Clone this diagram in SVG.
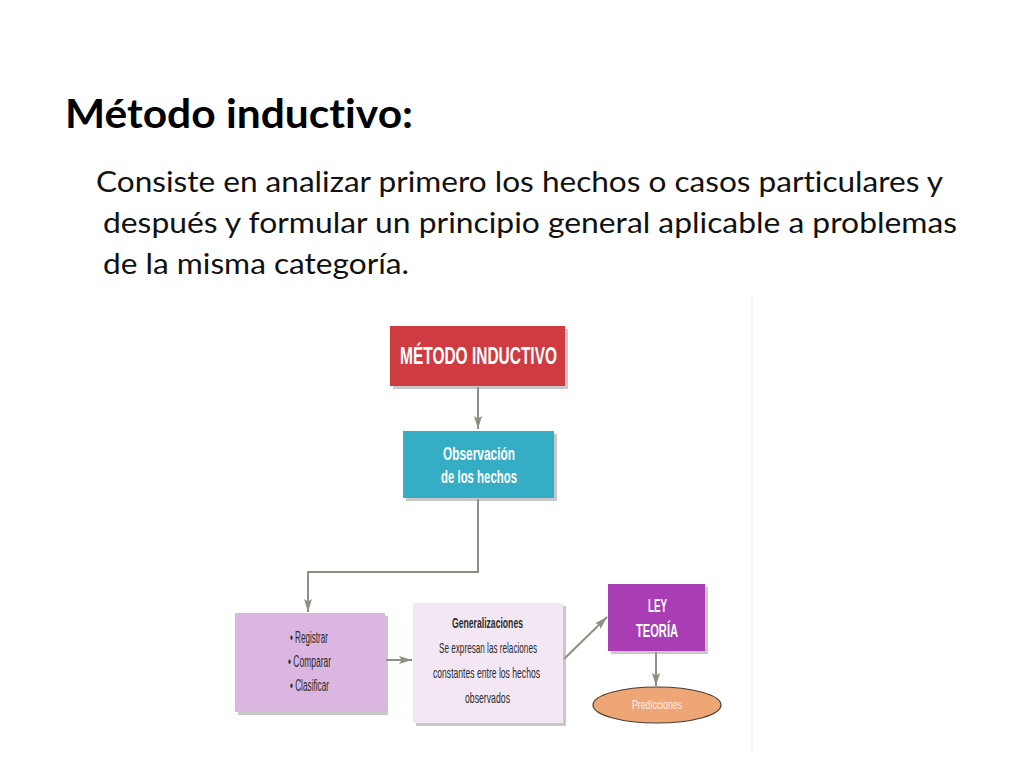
<svg xmlns="http://www.w3.org/2000/svg" width="1024" height="768" viewBox="0 0 1024 768">
<defs>
<style>
text{font-variant-ligatures:none;font-feature-settings:"liga" 0,"clig" 0}
.title{font-family:Lato,"Liberation Sans",sans-serif;font-weight:bold;font-size:40px;fill:#000}
.body{font-family:Lato,"Liberation Sans",sans-serif;font-size:28px;fill:#111}
.bx{font-family:"Liberation Sans",Arial,sans-serif;font-weight:bold;fill:#fff}
.dk{font-family:"Liberation Sans",Arial,sans-serif;fill:#2b2b2b}
.conn{fill:none;stroke:#8c9082;stroke-width:2}
.shadow{fill:#9a9a9a;opacity:0.55}
</style>
<marker id="ah" viewBox="0 0 10 10" refX="10" refY="5" markerWidth="13" markerHeight="8" markerUnits="userSpaceOnUse" orient="auto" preserveAspectRatio="none">
<path d="M0,0 L10,5 L0,10 L2,5 z" fill="#8c9082"/>
</marker>
</defs>
<rect width="1024" height="768" fill="#fff"/>
<line x1="752" y1="295" x2="752" y2="752" stroke="#f4f4f4" stroke-width="2"/>

<text class="title" x="65" y="128" textLength="348" lengthAdjust="spacingAndGlyphs">Método inductivo:</text>
<text class="body" x="96" y="192" textLength="847" lengthAdjust="spacingAndGlyphs">Consiste en analizar primero los hechos o casos particulares y</text>
<text class="body" x="103" y="233" textLength="854" lengthAdjust="spacingAndGlyphs">después y formular un principio general aplicable a problemas</text>
<text class="body" x="103" y="274" textLength="306" lengthAdjust="spacingAndGlyphs">de la misma categoría.</text>

<g id="connectors">
<line class="conn" x1="478" y1="387" x2="478" y2="429" marker-end="url(#ah)"/>
<polyline class="conn" points="478,499 478,572 308,572 308,612" marker-end="url(#ah)"/>
<line class="conn" x1="386" y1="660" x2="412" y2="660" marker-end="url(#ah)"/>
<line class="conn" x1="564" y1="659" x2="607" y2="617" marker-end="url(#ah)"/>
<line class="conn" x1="656" y1="652" x2="656" y2="686" marker-end="url(#ah)"/>
</g>

<g id="metodo">
<rect class="shadow" x="393" y="329" width="175" height="60"/>
<rect x="390" y="326" width="175" height="60" fill="#cf3b41"/>
<text class="bx" x="400" y="364" font-size="24" textLength="157" lengthAdjust="spacingAndGlyphs">MÉTODO INDUCTIVO</text>
</g>

<g id="observacion">
<rect class="shadow" x="406" y="434" width="151" height="67"/>
<rect x="403" y="431" width="151" height="67" fill="#35adc5"/>
<text class="bx" x="443" y="460" font-size="18" textLength="72" lengthAdjust="spacingAndGlyphs">Observación</text>
<text class="bx" x="441" y="483" font-size="18" textLength="76" lengthAdjust="spacingAndGlyphs">de los hechos</text>
</g>

<g id="registrar">
<rect class="shadow" x="238" y="616" width="150" height="99"/>
<rect x="235" y="613" width="150" height="99" fill="#dbb6e1"/>
<text class="dk" x="290" y="643" font-size="16" textLength="38" lengthAdjust="spacingAndGlyphs">• Registrar</text>
<text class="dk" x="288" y="667" font-size="16" textLength="43" lengthAdjust="spacingAndGlyphs">• Comparar</text>
<text class="dk" x="290" y="691" font-size="16" textLength="39" lengthAdjust="spacingAndGlyphs">• Clasificar</text>
</g>

<g id="generalizaciones">
<rect class="shadow" x="416" y="606" width="150" height="120"/>
<rect x="413" y="603" width="150" height="120" fill="#f4e7f4"/>
<text class="dk" x="452" y="628" font-size="15" font-weight="bold" textLength="71" lengthAdjust="spacingAndGlyphs">Generalizaciones</text>
<text class="dk" x="439" y="653" font-size="15" textLength="98" lengthAdjust="spacingAndGlyphs">Se expresan las relaciones</text>
<text class="dk" x="433" y="678" font-size="15" textLength="107" lengthAdjust="spacingAndGlyphs">constantes entre los hechos</text>
<text class="dk" x="465" y="703" font-size="15" textLength="45" lengthAdjust="spacingAndGlyphs">observados</text>
</g>

<g id="ley">
<rect class="shadow" x="611" y="587" width="97" height="67"/>
<rect x="608" y="584" width="97" height="67" fill="#a93db4"/>
<text class="bx" x="648" y="612" font-size="19" textLength="19" lengthAdjust="spacingAndGlyphs">LEY</text>
<text class="bx" x="636" y="637" font-size="19" textLength="42" lengthAdjust="spacingAndGlyphs">TEORÍA</text>
</g>

<g id="predicciones">
<ellipse cx="657" cy="705" rx="64" ry="18" fill="#efa677" stroke="#4a3d35" stroke-width="1.2"/>
<text x="657" y="709" font-family="Liberation Sans, Arial, sans-serif" font-size="13" fill="#fbeee4" text-anchor="middle" textLength="50" lengthAdjust="spacingAndGlyphs">Predicciones</text>
</g>
</svg>
